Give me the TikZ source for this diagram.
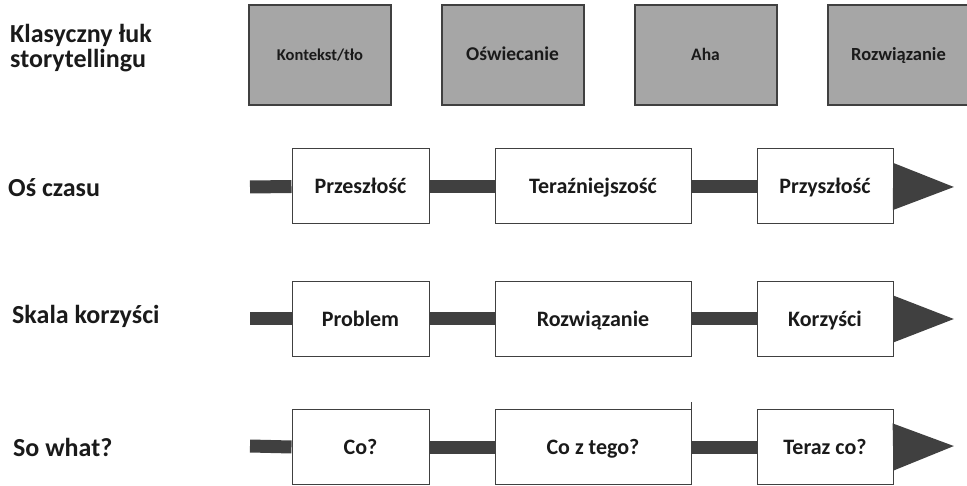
\documentclass[tikz,border=0pt]{standalone}
\usepackage{fontspec}
\setmainfont{Carlito}
\usetikzlibrary{arrows.meta, positioning}
\definecolor{bargray}  {RGB}{64,  64,  64}
\definecolor{boxgray}  {RGB}{166, 166, 166}
\definecolor{inkblack} {RGB}{26,  26,  26}

\tikzset{
	rowlabel/.style={anchor=base west, inner sep=0pt, text=inkblack,
		font=\bfseries\fontsize{26}{25}\selectfont},
	arcbox/.style={draw=bargray, line width=2pt, fill=boxgray, inner sep=0pt,
		minimum width=142pt, minimum height=100pt, text=inkblack,
		text height=11.6pt, text depth=0pt},
	stagebox/.style={draw=bargray, line width=1pt, fill=white, inner sep=0pt,
		minimum height=75pt, text=inkblack,
		font=\bfseries\fontsize{22}{24}\selectfont,
		text height=14.2pt, text depth=0pt},
	bar/.style={draw=bargray, line width=13pt},
	bararrow/.style={bar, -{Triangle[length=63pt,width=43pt]}}
}
\newcommand{\arcfont}[1]{\bfseries\fontsize{#1}{20}\selectfont}

\begin{document}
\begin{tikzpicture}[x=1pt,y=-1pt]
	\useasboundingbox (0,0) rectangle (967,486);
	% klasyczny luk
	\node[rowlabel, align=left] (arclabel) at (10,68) {Klasyczny łuk\\storytellingu};
	\node[arcbox, font=\arcfont{16.5}] (arcA) at (320,55)   {Kontekst/tło};
	\node[arcbox, font=\arcfont{19.5}] (arcB) at (512.5,55) {Oświecanie};
	\node[arcbox, font=\arcfont{17.5}] (arcC) at (705.5,55) {Aha};
	\node[arcbox, font=\arcfont{18.5}] (arcD) at (898.5,55) {Rozwiązanie};
	% os czasu
	\node[rowlabel] (timelabel) at (8,197) {Oś czasu};
	\coordinate (timestart) at (250,187);
	\coordinate (timetip) at (956,187);
	\node[stagebox, minimum width=137pt] (pastbox)    at (360.5,186.5) {Przeszłość};
	\node[stagebox, minimum width=196pt] (presentbox) at (593,186.5)   {Teraźniejszość};
	\node[stagebox, minimum width=136pt] (futurebox)  at (825,186.5)   {Przyszłość};
	\draw[bar] (timestart) -- (pastbox.west);
	\draw[bar] (pastbox.east) -- (presentbox.west);
	\draw[bar] (presentbox.east) -- (futurebox.west);
	\draw[bararrow] (futurebox.east) -- (timetip);
	% skala korzysci
	\node[rowlabel] (gainlabel) at (12,324) {Skala korzyści};
	\coordinate (gainstart) at (250,319);
	\coordinate (gaintip) at (956,319);
	\node[stagebox, minimum width=137pt] (problembox)  at (360.5,319) {Problem};
	\node[stagebox, minimum width=196pt] (solutionbox) at (593,319)   {Rozwiązanie};
	\node[stagebox, minimum width=136pt] (benefitbox)  at (825,319)   {Korzyści};
	\draw[bar] (gainstart) -- (problembox.west);
	\draw[bar] (problembox.east) -- (solutionbox.west);
	\draw[bar] (solutionbox.east) -- (benefitbox.west);
	\draw[bararrow] (benefitbox.east) -- (gaintip);
	% so what
	\node[rowlabel] (whatlabel) at (13,456) {So what?};
	\coordinate (whatstart) at (250,446);
	\coordinate (whattip) at (956,446);
	\node[stagebox, minimum width=137pt] (whatbox)    at (360.5,447) {Co?};
	\node[stagebox, minimum width=196pt] (sowhatbox)  at (593,447)   {Co z tego?};
	\node[stagebox, minimum width=136pt] (nowwhatbox) at (825,447)   {Teraz co?};
	\draw[bar] (whatstart) -- (whatbox.west);
	\draw[bar] (whatbox.east) -- (sowhatbox.west);
	\draw[bar] (sowhatbox.east) -- (nowwhatbox.west);
	\draw[bararrow] (nowwhatbox.east) -- (whattip);
	\draw[bargray, line width=1pt] (sowhatbox.north east) -- ++(0,-7);
\end{tikzpicture}
\end{document}
